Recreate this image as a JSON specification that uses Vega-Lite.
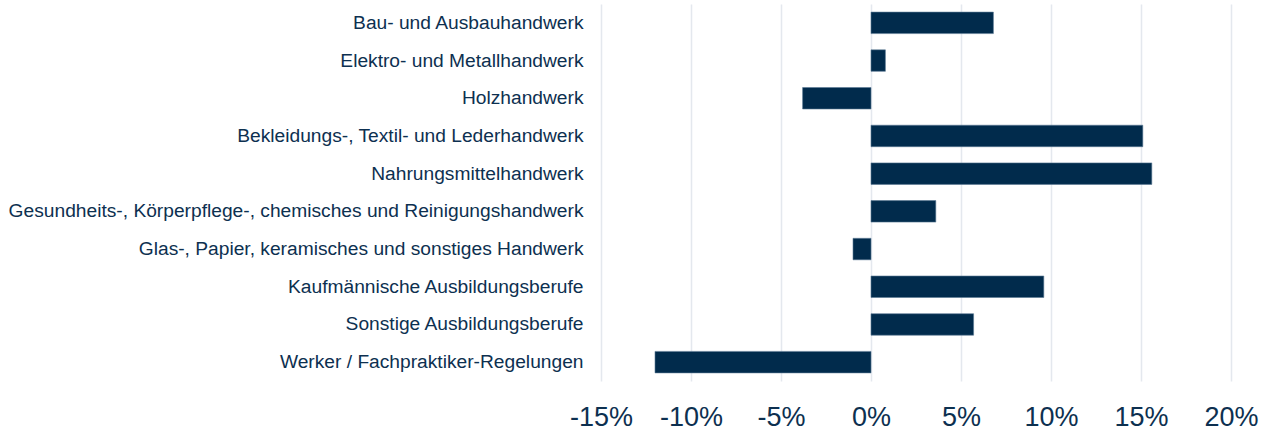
{
  "$schema": "https://vega.github.io/schema/vega-lite/v6.json",
  "width": 630,
  "height": 377,
  "autosize": {"type": "none"},
  "padding": {"left": 601, "top": 4, "right": 43, "bottom": 52},
  "background": "white",
  "data": {"values": [
    {"category": "Bau- und Ausbauhandwerk", "value": 0.068},
    {"category": "Elektro- und Metallhandwerk", "value": 0.008},
    {"category": "Holzhandwerk", "value": -0.038},
    {"category": "Bekleidungs-, Textil- und Lederhandwerk", "value": 0.151},
    {"category": "Nahrungsmittelhandwerk", "value": 0.156},
    {"category": "Gesundheits-, Körperpflege-, chemisches und Reinigungshandwerk", "value": 0.036},
    {"category": "Glas-, Papier, keramisches und sonstiges Handwerk", "value": -0.010},
    {"category": "Kaufmännische Ausbildungsberufe", "value": 0.096},
    {"category": "Sonstige Ausbildungsberufe", "value": 0.057},
    {"category": "Werker / Fachpraktiker-Regelungen", "value": -0.120}
  ]},
  "mark": {"type": "bar", "color": "#012b4c", "stroke": "#5a7894", "strokeWidth": 0.6},
  "encoding": {
    "y": {
      "field": "category", "type": "nominal", "sort": null,
      "scale": {"paddingInner": 0.43, "paddingOuter": 0.215},
      "axis": {
        "title": null, "domain": false, "ticks": false, "grid": false,
        "labelFont": "Liberation Sans", "labelFontSize": 19.2, "labelColor": "#0d3050",
        "labelPadding": 18, "labelLimit": 700
      }
    },
    "x": {
      "field": "value", "type": "quantitative",
      "scale": {"domain": [-0.15, 0.2], "nice": false},
      "axis": {
        "title": null, "domain": false, "ticks": false,
        "labelExpr": "replace(format(datum.value, '.0%'), '−', '-')",
        "values": [-0.15, -0.1, -0.05, 0, 0.05, 0.1, 0.15, 0.2],
        "grid": true, "gridColor": "#e4e8ee", "gridWidth": 1.5,
        "labelFont": "Liberation Sans", "labelFontSize": 27, "labelColor": "#0d3050",
        "labelPadding": 23, "labelFlush": false
      }
    }
  },
  "config": {"view": {"stroke": null}}
}
